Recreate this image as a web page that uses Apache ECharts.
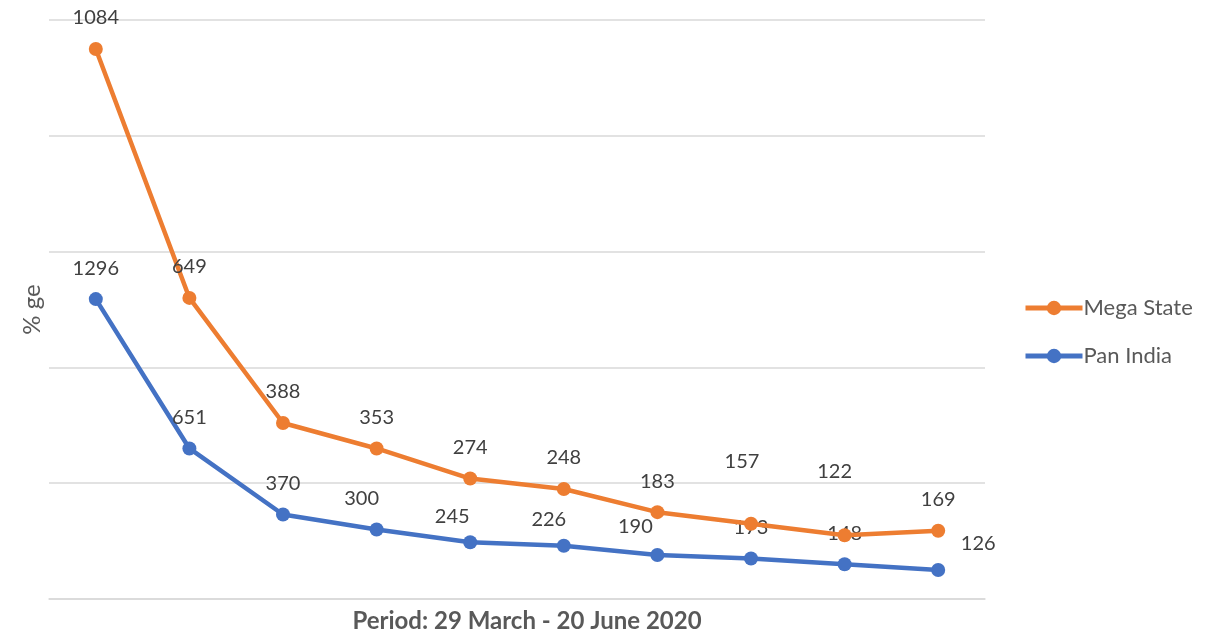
<!DOCTYPE html>
<html>
<head>
<meta charset="utf-8">
<script src="https://cdn.jsdelivr.net/npm/echarts@6/dist/echarts.min.js"></script>
<style>html,body{margin:0;padding:0;background:#fff;}#c{width:1216px;height:633px;}</style>
</head>
<body>
<div id="c"></div>
<script>
// Categories: 10 periods between 29 March and 20 June 2020
const categories = ['P1','P2','P3','P4','P5','P6','P7','P8','P9','P10'];
// Plotted values (% ge)
const megaStateValues = [47.5, 26.0, 15.2, 13.0, 10.4, 9.5, 7.5, 6.5, 5.5, 5.9];
const panIndiaValues = [25.9, 13.0, 7.3, 6.0, 4.9, 4.6, 3.8, 3.5, 3.0, 2.5];
// Data labels shown in the chart
const megaStateLabels = [1084, 649, 388, 353, 274, 248, 183, 157, 122, 169];
const panIndiaLabels = [1296, 651, 370, 300, 245, 226, 190, 173, 148, 126];

// label placement tweaks (index -> [dx, dy])
const megaOffsets = {7: [-9, -31], 8: [-10, -33]};
const panOffsets = {3: [-15, 0], 4: [-18, 5], 5: [-15, 5], 6: [-22, 3], 9: [40, 4]};

function build(values, labels, offsets) {
  return values.map((v, i) => {
    const item = {value: v, labelText: String(labels[i])};
    if (offsets[i]) item.label = {offset: offsets[i]};
    return item;
  });
}

const FONT = 'Lato';
const chart = echarts.init(document.getElementById('c'));
chart.setOption({
  animation: false,
  backgroundColor: '#ffffff',
  textStyle: {fontFamily: FONT},
  grid: {left: 49, right: 231, top: 20, bottom: 34, containLabel: false, outerBoundsMode: 'none'},
  legend: {
    orient: 'vertical',
    left: 1023,
    top: 297,
    padding: 0,
    itemWidth: 57,
    itemHeight: 18,
    itemGap: 26,
    lineStyle: {width: 5},
    textStyle: {fontFamily: FONT, fontSize: 22, color: '#595959', padding: [0,0,0,-4]},
    data: ['Mega State', 'Pan India']
  },
  xAxis: {
    type: 'category',
    data: categories,
    boundaryGap: true,
    axisLine: {show: true, lineStyle: {color: '#d9d9d9', width: 1.5}},
    axisTick: {show: false},
    axisLabel: {show: false},
    name: 'Period: 29 March - 20 June 2020',
    nameLocation: 'middle',
    nameGap: 10,
    nameTextStyle: {fontFamily: FONT, fontSize: 24, fontWeight: 'bold', color: '#595959', padding: [0,0,0,20]}
  },
  yAxis: {
    type: 'value',
    min: 0,
    max: 50,
    interval: 10,
    axisLine: {show: false},
    axisTick: {show: false},
    axisLabel: {show: false},
    splitLine: {lineStyle: {color: '#d9d9d9', width: 1.5}},
    name: '% ge',
    nameLocation: 'middle',
    nameGap: 5,
    nameTextStyle: {fontFamily: FONT, fontSize: 24, color: '#595959'}
  },
  series: [
    {
      name: 'Mega State',
      type: 'line',
      data: build(megaStateValues, megaStateLabels, megaOffsets),
      symbol: 'circle',
      symbolSize: 14,
      itemStyle: {color: '#ED7D31'},
      lineStyle: {color: '#ED7D31', width: 4.5},
      label: {show: true, position: 'top', distance: 14, fontFamily: FONT, fontSize: 20, color: '#404040',
        formatter: p => p.data.labelText},
      z: 3
    },
    {
      name: 'Pan India',
      type: 'line',
      data: build(panIndiaValues, panIndiaLabels, panOffsets),
      symbol: 'circle',
      symbolSize: 14,
      itemStyle: {color: '#4472C4'},
      lineStyle: {color: '#4472C4', width: 4.5},
      label: {show: true, position: 'top', distance: 14, fontFamily: FONT, fontSize: 20, color: '#404040',
        formatter: p => p.data.labelText},
      z: 2
    }
  ]
});
</script>
</body>
</html>
